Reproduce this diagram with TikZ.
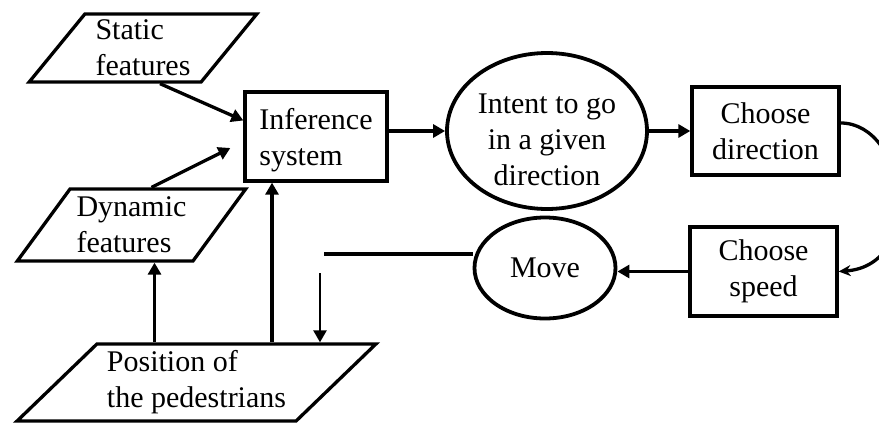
\documentclass[tikz,border=0pt]{standalone}
\usepackage{fontspec}
\setmainfont{Liberation Serif}
\usetikzlibrary{arrows.meta,shapes.geometric}
\begin{document}
\begin{tikzpicture}[x=1pt,y=-1pt,line width=3.3pt,
    every node/.style={font=\fontsize{30}{36}\selectfont,inner sep=0pt},
    box/.style={draw,rectangle,align=center},
    oval/.style={draw,ellipse,line width=3.8pt,align=center},
    slant/.style={draw,trapezium,trapezium stretches=true,align=left},
    arr/.style={-{Triangle[length=12pt,width=13pt]}}]
    \useasboundingbox (0,0) rectangle (879,423);
    \node[slant,trapezium left angle=51,trapezium right angle=129,minimum width=228pt,minimum height=68pt] (static) at (143,48) {Static\\features};
    \node[slant,trapezium left angle=50,trapezium right angle=130,minimum width=229pt,minimum height=72pt] (dyn) at (131.5,225) {Dynamic\\features};
    \node[slant,trapezium left angle=41.5,trapezium right angle=138.5,minimum width=359pt,minimum height=77pt] (pos) at (196.5,382.5) {Position of\\the pedestrians};
    \node[box,align=left,minimum width=142pt,minimum height=89pt] (infer) at (316,136.5) {\rule{0pt}{29pt}Inference\\system};
    \node[oval,minimum width=200pt,minimum height=135pt] (intent) at (547,131) {\rule{0pt}{38pt}Intent to go\\in a given\\direction};
    \node[box,minimum width=147pt,minimum height=88pt] (dir) at (765.5,131) {Choose\\direction};
    \node[box,minimum width=147pt,minimum height=89pt] (speed) at (763.5,271.5) {Choose\\speed};
    \node[oval,minimum width=141pt,minimum height=101pt] (move) at (545,268) {Move};
    \coordinate (turn) at (324,254);
    \coordinate (drop) at (320,273);
    \draw[arr] ([xshift=17pt]static.south) -- ([yshift=16pt]infer.west);
    \draw[arr] ([xshift=20pt]dyn.north) -- ([xshift=-13pt,yshift=-11.5pt]infer.west);
    \draw[arr] (infer.east |- intent.west) -- (intent.west);
    \draw[arr] (intent.east) -- (dir.west);
    \draw[-{Stealth[length=12pt,width=11pt]}] ([yshift=8pt]dir.east) .. controls +(66,0) and +(88,-6.5) .. (speed.east);
    \draw[arr] (speed.west) -- (move.east |- speed.west);
    \draw (turn) -- (turn -| move.west);
    \draw[arr,line width=2.5pt] (drop) -- (drop |- pos.north);
    \draw[arr] ([xshift=-42pt]pos.north) -- ([xshift=-42pt]pos.north |- dyn.south);
    \draw[arr] ([xshift=75.5pt]pos.north) -- ([xshift=75.5pt]pos.north |- infer.south);
\end{tikzpicture}
\end{document}
